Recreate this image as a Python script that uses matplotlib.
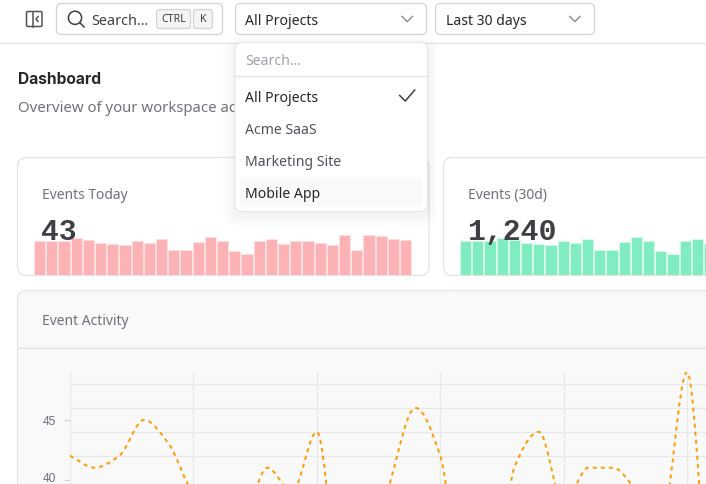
import matplotlib
matplotlib.use('Agg')
import matplotlib.pyplot as plt
from matplotlib.patches import FancyBboxPatch, PathPatch, Circle
from matplotlib.path import Path
from matplotlib.transforms import ScaledTranslation

W, H = 706, 485

# events per day, same series for the sparklines and the line chart
daily_events = [42, 41, 42, 45, 43, 39, 38, 37, 41, 39, 44, 31, 31, 40, 46, 42,
                29, 26, 41, 44, 38, 41, 41, 39, 37, 49, 30, 49, 48, 44, 43]
days = list(range(len(daily_events)))
y_labels = [40, 45]
y_grid = [40, 42, 44, 46, 48]
x_grid = [0, 5, 10, 15, 20, 25]
menu_items = ['All Projects', 'Acme SaaS', 'Marketing Site', 'Mobile App']

plt.rcParams['font.family'] = ['Noto Sans', 'DejaVu Sans']
BORDER = '#e4e4e7'
DARK = '#27272a'
MUTED = '#71717a'


def px_axes(x0, y0, x1, y1, z=1):
    ax = fig.add_axes([x0 / W, 1 - y1 / H, (x1 - x0) / W, (y1 - y0) / H], zorder=z)
    ax.patch.set_alpha(0)
    return ax


def box(ax, x0, y0, x1, y1, r=6, fc='white', ec=BORDER, lw=0.9, z=2, alpha=None):
    p = FancyBboxPatch((x0, y0), x1 - x0, y1 - y0, boxstyle='round,pad=0,rounding_size=%s' % r,
                       fc=fc, ec=ec, lw=lw, zorder=z, alpha=alpha)
    ax.add_patch(p)


def monotone_path(xs, ys):
    # monotone cubic tangents, written as bezier segments
    n = len(xs)
    s = [(ys[i + 1] - ys[i]) / (xs[i + 1] - xs[i]) for i in range(n - 1)]
    t = [s[0]]
    for i in range(1, n - 1):
        t.append(0 if s[i - 1] * s[i] <= 0 else 2 * s[i - 1] * s[i] / (s[i - 1] + s[i]))
    t.append(s[-1])
    verts = [(xs[0], ys[0])]
    codes = [Path.MOVETO]
    for i in range(n - 1):
        h = (xs[i + 1] - xs[i]) / 3
        verts += [(xs[i] + h, ys[i] + t[i] * h), (xs[i + 1] - h, ys[i + 1] - t[i + 1] * h), (xs[i + 1], ys[i + 1])]
        codes += [Path.CURVE4] * 3
    return Path(verts, codes)


def spark(x0, color, edge):
    ax = px_axes(x0, 226, x0 + 378, 276)
    ax.bar(days, daily_events, width=0.92, color=color, edgecolor=edge, linewidth=0.7)
    ax.set_xlim(-0.5, 30.5)
    ax.set_ylim(0, 61)
    ax.axis('off')


fig = plt.figure(figsize=(W / 100, H / 100), dpi=100, facecolor='white')

# page, header and cards
ui = px_axes(0, 0, W, H, z=0)
ui.set_xlim(0, W)
ui.set_ylim(H, 0)
ui.axis('off')

ui.plot([0, W], [43.5, 43.5], color=BORDER, lw=0.9)

# sidebar toggle icon
box(ui, 26.5, 12.5, 42, 27.5, r=1.5, ec='#52525b', lw=1.1)
ui.plot([32.5, 32.5], [12.5, 27.5], color='#52525b', lw=1.1, zorder=3)
ui.plot([38, 36, 38], [17.5, 20, 22.5], color='#52525b', lw=1.1, zorder=3)

# search button
box(ui, 56.5, 4.5, 222.5, 35.5, r=5, ec='#d4d4d8')
ui.add_patch(Circle((75, 18.8), 6.6, fc='none', ec='#3f3f46', lw=1.1, zorder=3))
ui.plot([79.8, 84], [23.6, 28], color='#3f3f46', lw=1.1, zorder=3)
ui.text(91.5, 21.2, 'Search...', fontsize=10.4, color='#3f3f46', va='center', zorder=3)
box(ui, 156.5, 10.5, 190.5, 29.5, r=3, fc='#f4f4f5', ec='#d4d4d8', z=3)
box(ui, 193.5, 10.5, 212.5, 29.5, r=3, fc='#f4f4f5', ec='#d4d4d8', z=3)
ui.text(173.5, 19.8, 'CTRL', fontsize=7.7, color='#3f3f46', ha='center', va='center', zorder=4)
ui.text(203, 19.8, 'K', fontsize=7.7, color='#3f3f46', ha='center', va='center', zorder=4)

# dropdown buttons
box(ui, 235.5, 4.5, 426.5, 35.5, r=5, ec='#d4d4d8')
ui.text(245, 21.2, 'All Projects', fontsize=10.1, color=DARK, va='center', zorder=3)
ui.plot([402, 407.2, 412.4], [17.4, 22.6, 17.4], color='#8a8a94', lw=1, zorder=3)
box(ui, 435.5, 4.5, 594.5, 35.5, r=5, ec='#d4d4d8')
ui.text(445.5, 21.2, 'Last 30 days', fontsize=10.1, color=DARK, va='center', zorder=3)
ui.plot([569.7, 574.9, 580.1], [17.4, 22.6, 17.4], color='#8a8a94', lw=1, zorder=3)

ui.text(18, 79.5, 'Dashboard', fontsize=11.2, fontweight='bold', family='Inter', color=DARK, va='center')
ui.text(18, 108.5, 'Overview of your workspace ac', fontsize=10.75, color=MUTED, va='center')

box(ui, 17.5, 158.5, 429, 276.5, r=9)
box(ui, 443.5, 158.5, 860, 276.5, r=9)
ui.text(42, 195.2, 'Events Today', fontsize=10, color=MUTED, va='center')
ui.text(468, 195.2, 'Events (30d)', fontsize=10, color=MUTED, va='center')

box(ui, 17.5, 291.5, 800, 600, r=9, fc='#f9f9f9')
ui.plot([17.5, W], [348.5, 348.5], color=BORDER, lw=0.9, zorder=3)
ui.text(42, 321.2, 'Event Activity', fontsize=10, color=MUTED, va='center', zorder=3)

spark(33.6, '#fdb3b6', '#ffdfe0')
spark(459.6, '#80edc0', '#d6f9ea')

# main line chart, runs off the right and bottom of the picture
line = px_axes(70, 373, W, H)
line.set_xlim(0, (W - 70) / 24.68)
line.set_ylim(39.64, 49)
line.set_xticks(x_grid)
line.set_xticklabels([])
line.set_yticks(y_labels)
line.set_yticks(y_grid, minor=True)
line.tick_params(axis='x', length=0)
line.tick_params(axis='y', which='major', length=4.3, width=0.8, color='#d4d4d8', pad=5.5,
                 labelsize=8.64, labelcolor='#6b7280', labelfontfamily='Liberation Sans')
line.tick_params(axis='y', which='minor', length=0)
# the 40 label sits a little above its tick, it would hit the bottom edge
lab40 = line.get_yticklabels()[0]
lab40.set_transform(lab40.get_transform() + ScaledTranslation(0, 2 / 72, fig.dpi_scale_trans))
line.grid(axis='x', color='#e8e8e8', lw=0.9)
line.grid(axis='y', which='minor', color='#e8e8e8', lw=0.9)
for s in line.spines.values():
    s.set_visible(False)
line.add_patch(PathPatch(monotone_path(days, daily_events), fill=False, ec='#ff9c0a', lw=1.45,
                         linestyle=(0, (2.0, 2.0)), capstyle='butt', zorder=3))

# numbers and the open dropdown on top
top = px_axes(0, 0, W, H, z=5)
top.set_xlim(0, W)
top.set_ylim(H, 0)
top.axis('off')
top.text(41.5, 232.5, str(daily_events[-1]), fontsize=21.4, fontweight='bold', family='Liberation Mono',
         color='#3f3f46', va='center')
top.text(467.5, 232.5, '1,240', fontsize=21.4, fontweight='bold', family='Liberation Mono',
         color='#3f3f46', va='center')

for grow, a in [(12, 0.006), (9, 0.009), (6, 0.012), (3, 0.016)]:
    box(top, 235 - grow, 43.5 - grow + 4, 427.5 + grow, 212.5 + grow + 4, r=6 + grow, fc='black', ec='none',
        lw=0, z=6, alpha=a)
box(top, 235, 43.5, 427.5, 212.5, r=7, z=7, ec='#e8e8ea')
top.text(245, 61.2, 'Search...', fontsize=10.1, color='#a1a1aa', va='center', zorder=8)
top.plot([235, 427.5], [76.5, 76.5], color=BORDER, lw=0.9, zorder=8)
box(top, 240, 178, 422, 208, r=6, fc='#f9f9f9', ec='none', lw=0, z=8)
menu_y = [98.2, 130.2, 162.2, 194.2]
menu_col = [DARK, '#52525b', '#52525b', DARK]
for label, yy, c in zip(menu_items, menu_y, menu_col):
    top.text(245, yy, label, fontsize=10.1, color=c, va='center', zorder=9)
top.plot([399.7, 405.3, 414.7], [96.5, 102, 91], color='#3f3f46', lw=1.1, zorder=9)

fig.savefig('out.png', dpi=100)
